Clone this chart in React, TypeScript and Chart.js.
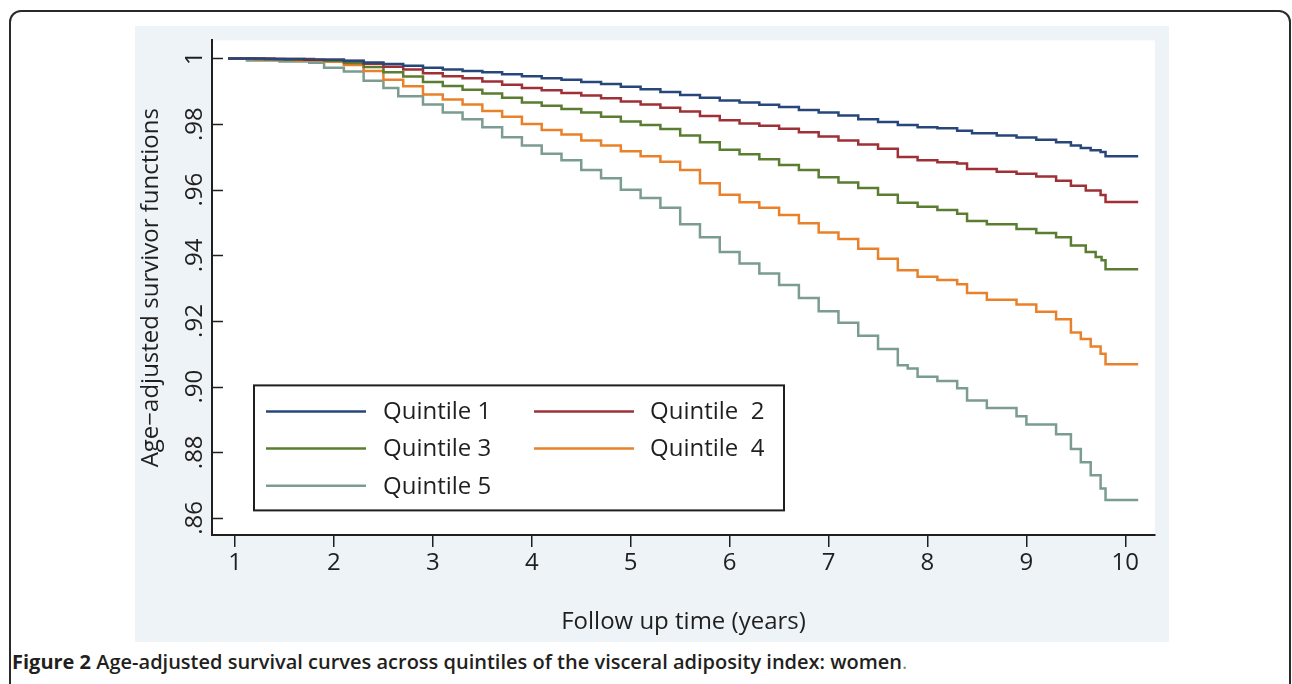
import React, { useEffect, useRef } from 'react';
import { Chart, registerables } from 'chart.js';

Chart.register(...registerables);

const FONT = '"Open Sans", "Noto Sans", sans-serif';
const INK = '#1f1f1f';

const seriesLabels = ['Quintile 1', 'Quintile  2', 'Quintile 3', 'Quintile  4', 'Quintile 5'];
const seriesColors = ['#27477A', '#9E3036', '#5A7D32', '#E9812A', '#7B9C90'];

const q1Time = [0.93, 1.3, 1.7, 2.1, 2.3, 2.5, 2.7, 2.9, 3.1, 3.3, 3.5, 3.7, 3.9, 4.1, 4.3, 4.5, 4.7, 4.9, 5.1, 5.3, 5.5, 5.7, 5.9, 6.1, 6.3, 6.5, 6.7, 6.9, 7.1, 7.3, 7.5, 7.7, 7.9, 8.1, 8.3, 8.45, 8.7, 8.9, 9.1, 9.3, 9.45, 9.55, 9.65, 9.75, 9.8, 10.13];
const q1Surv = [1.0, 0.9998, 0.9996, 0.9993, 0.9988, 0.9983, 0.9978, 0.9972, 0.9966, 0.9962, 0.9958, 0.9952, 0.9946, 0.994, 0.9935, 0.9928, 0.9922, 0.9914, 0.9906, 0.9898, 0.9889, 0.988, 0.9872, 0.9866, 0.9859, 0.9852, 0.9843, 0.9835, 0.9826, 0.9815, 0.9806, 0.9797, 0.979, 0.9787, 0.978, 0.9772, 0.9765, 0.9759, 0.9752, 0.9745, 0.9735, 0.9727, 0.972, 0.9715, 0.9702, 0.9702];

const q2Time = [0.93, 1.4, 1.8, 2.1, 2.3, 2.5, 2.7, 2.9, 3.1, 3.3, 3.5, 3.7, 3.9, 4.1, 4.3, 4.5, 4.7, 4.9, 5.1, 5.3, 5.5, 5.7, 5.9, 6.1, 6.3, 6.5, 6.7, 6.9, 7.1, 7.3, 7.5, 7.7, 7.9, 8.1, 8.3, 8.4, 8.7, 8.9, 9.1, 9.3, 9.45, 9.6, 9.75, 9.8, 10.13];
const q2Surv = [1.0, 0.9998, 0.9996, 0.9992, 0.9984, 0.9975, 0.9966, 0.9955, 0.9946, 0.994, 0.993, 0.992, 0.991, 0.9903, 0.9895, 0.9887, 0.9879, 0.9869, 0.986, 0.985, 0.9838, 0.9825, 0.9812, 0.9802, 0.9795, 0.9786, 0.9775, 0.9762, 0.975, 0.9738, 0.9725, 0.97, 0.969, 0.9684, 0.968, 0.9663, 0.9655, 0.9649, 0.964, 0.9627, 0.9612, 0.9598, 0.9584, 0.9563, 0.9563];

const q3Time = [0.93, 1.2, 1.5, 1.9, 2.1, 2.3, 2.5, 2.7, 2.9, 3.1, 3.3, 3.5, 3.7, 3.9, 4.1, 4.3, 4.5, 4.7, 4.9, 5.1, 5.3, 5.5, 5.7, 5.9, 6.1, 6.3, 6.5, 6.7, 6.9, 7.1, 7.3, 7.5, 7.7, 7.9, 8.1, 8.3, 8.4, 8.6, 8.9, 9.1, 9.3, 9.45, 9.6, 9.7, 9.76, 9.8, 10.13];
const q3Surv = [1.0, 0.9998, 0.9996, 0.9993, 0.9986, 0.9974, 0.9958, 0.9945, 0.9928, 0.9916, 0.9905, 0.9893, 0.988, 0.9866, 0.9856, 0.9846, 0.9835, 0.9822, 0.9808, 0.9797, 0.9785, 0.9765, 0.9745, 0.9722, 0.9708, 0.9693, 0.9675, 0.966, 0.9638, 0.9622, 0.9605, 0.9585, 0.956, 0.9548, 0.9538, 0.9527, 0.9505, 0.9495, 0.948, 0.9468, 0.9455, 0.943, 0.941, 0.9395, 0.9385, 0.9358, 0.9358];

const q4Time = [0.93, 1.2, 1.6, 1.9, 2.1, 2.3, 2.5, 2.7, 2.9, 3.1, 3.3, 3.5, 3.7, 3.9, 4.1, 4.3, 4.5, 4.7, 4.9, 5.1, 5.3, 5.5, 5.7, 5.9, 6.1, 6.3, 6.5, 6.7, 6.9, 7.1, 7.3, 7.5, 7.7, 7.9, 8.1, 8.3, 8.4, 8.6, 8.9, 9.1, 9.3, 9.45, 9.55, 9.65, 9.75, 9.8, 10.13];
const q4Surv = [1.0, 0.9997, 0.9993, 0.999, 0.998, 0.9962, 0.9935, 0.9915, 0.989, 0.9875, 0.986, 0.984, 0.9822, 0.98, 0.9782, 0.9768, 0.975, 0.9735, 0.9717, 0.9702, 0.9685, 0.966, 0.962, 0.9585, 0.9562, 0.9545, 0.9523, 0.9498, 0.947, 0.945, 0.942, 0.939, 0.9355, 0.9335, 0.9325, 0.9312, 0.9285, 0.9265, 0.925, 0.9228, 0.9205, 0.9165, 0.9145, 0.9122, 0.91, 0.9068, 0.9068];

const q5Time = [0.93, 1.12, 1.45, 1.75, 1.9, 2.1, 2.3, 2.5, 2.65, 2.9, 3.1, 3.3, 3.5, 3.7, 3.9, 4.1, 4.3, 4.5, 4.7, 4.9, 5.1, 5.3, 5.5, 5.7, 5.9, 6.1, 6.3, 6.5, 6.7, 6.9, 7.1, 7.3, 7.5, 7.7, 7.8, 7.9, 8.1, 8.3, 8.4, 8.6, 8.9, 9.0, 9.3, 9.45, 9.55, 9.65, 9.75, 9.8, 10.13];
const q5Surv = [1.0, 0.9994, 0.9991, 0.9987, 0.9972, 0.996, 0.9932, 0.991, 0.9885, 0.986, 0.9835, 0.9815, 0.979, 0.976, 0.9735, 0.971, 0.969, 0.966, 0.9635, 0.96, 0.9575, 0.9545, 0.9495, 0.9455, 0.941, 0.9375, 0.9345, 0.931, 0.927, 0.923, 0.9195, 0.9155, 0.9115, 0.9065, 0.9055, 0.903, 0.9017, 0.8995, 0.8958, 0.8935, 0.891, 0.8885, 0.8855, 0.881, 0.877, 0.873, 0.869, 0.8655, 0.8655];

const seriesTimes = [q1Time, q2Time, q3Time, q4Time, q5Time];
const seriesSurv = [q1Surv, q2Surv, q3Surv, q4Surv, q5Surv];

const xTickValues = [1, 2, 3, 4, 5, 6, 7, 8, 9, 10];
const xTickLabels = ['1', '2', '3', '4', '5', '6', '7', '8', '9', '10'];
const yTickValues = [0.86, 0.88, 0.9, 0.92, 0.94, 0.96, 0.98, 1.0];
const yTickLabels = ['.86', '.88', '.90', '.92', '.94', '.96', '.98', '1'];
const xRange = [0.767, 10.3];
const yRange = [0.8548, 1.0055];

const xAxisTitle = 'Follow up time (years)';
const yAxisTitle = 'Age\u2212adjusted survivor functions';
const captionBold = 'Figure 2';
const captionText = ' Age-adjusted survival curves across quintiles of the visceral adiposity index: women';

const plotBackground = {
  id: 'plotBackground',
  beforeDraw(chart: any) {
    const { ctx, chartArea } = chart;
    ctx.save();
    ctx.fillStyle = '#ffffff';
    ctx.fillRect(chartArea.left, chartArea.top, chartArea.right - chartArea.left, chartArea.bottom - chartArea.top);
    ctx.restore();
  },
};

const inwardYTicks = {
  id: 'inwardYTicks',
  afterDraw(chart: any) {
    const { ctx, chartArea } = chart;
    const y = chart.scales.y;
    ctx.save();
    ctx.strokeStyle = INK;
    ctx.lineWidth = 1.5;
    y.ticks.forEach((t: any) => {
      const py = Math.round(y.getPixelForValue(t.value)) + 0.5;
      ctx.beginPath();
      ctx.moveTo(chartArea.left, py);
      ctx.lineTo(chartArea.left + 11, py);
      ctx.stroke();
    });
    ctx.restore();
  },
};

const boxLegend = {
  id: 'boxLegend',
  afterDraw(chart: any) {
    const { ctx, chartArea } = chart;
    const left = chartArea.left + 42;
    const top = chartArea.top + 345;
    const w = 530;
    const h = 125;
    ctx.save();
    ctx.fillStyle = '#ffffff';
    ctx.fillRect(left, top, w, h);
    ctx.strokeStyle = INK;
    ctx.lineWidth = 2;
    ctx.strokeRect(left, top, w, h);
    ctx.font = `24px ${FONT}`;
    ctx.textBaseline = 'middle';
    ctx.textAlign = 'left';
    chart.data.datasets.forEach((ds: any, i: number) => {
      const col = i % 2;
      const row = Math.floor(i / 2);
      const cy = top + 26 + row * 37.2;
      const lx = left + 12 + col * 268;
      ctx.strokeStyle = ds.borderColor;
      ctx.lineWidth = 2.5;
      ctx.beginPath();
      ctx.moveTo(lx, cy);
      ctx.lineTo(lx + 100, cy);
      ctx.stroke();
      ctx.fillStyle = INK;
      ctx.fillText(ds.label, left + 129 + col * 267, cy + 1);
    });
    ctx.restore();
  },
};

function SurvivalChart() {
  const ref = useRef<HTMLCanvasElement | null>(null);
  useEffect(() => {
    if (!ref.current) return;
    const datasets = seriesLabels.map((label, i) => ({
      label,
      data: seriesTimes[i].map((t, j) => ({ x: t, y: seriesSurv[i][j] })),
      borderColor: seriesColors[i],
      backgroundColor: seriesColors[i],
      borderWidth: 2.5,
      pointRadius: 0,
      stepped: true,
      fill: false,
      borderJoinStyle: 'miter',
      borderCapStyle: 'butt',
    }));
    const chart = new Chart(ref.current, {
      type: 'line',
      data: { datasets } as any,
      plugins: [plotBackground, inwardYTicks, boxLegend],
      options: {
        animation: false,
        responsive: false,
        devicePixelRatio: 1,
        layout: { padding: { left: 0, top: 13, right: 14, bottom: 0 } },
        plugins: { legend: { display: false }, tooltip: { enabled: false } },
        scales: {
          x: {
            type: 'linear',
            min: xRange[0],
            max: xRange[1],
            afterBuildTicks: (s: any) => {
              s.ticks = xTickValues.map((v) => ({ value: v }));
            },
            afterFit: (s: any) => {
              s.height = 107;
            },
            ticks: {
              autoSkip: false,
              maxRotation: 0,
              minRotation: 0,
              padding: 2,
              color: INK,
              font: { family: FONT, size: 24 },
              callback: (v: any) => xTickLabels[xTickValues.indexOf(v)] ?? '',
            },
            grid: { drawOnChartArea: false, drawTicks: true, tickLength: 12, color: INK, lineWidth: 1.5 },
            border: { display: true, color: INK, width: 2 },
            title: {
              display: true,
              text: xAxisTitle,
              color: INK,
              font: { family: FONT, size: 24 },
              padding: { top: 0, bottom: 5 },
            },
          },
          y: {
            type: 'linear',
            min: yRange[0],
            max: yRange[1],
            afterBuildTicks: (s: any) => {
              s.ticks = yTickValues.map((v) => ({ value: v }));
            },
            afterFit: (s: any) => {
              s.width = 77;
            },
            ticks: {
              autoSkip: false,
              minRotation: 90,
              maxRotation: 90,
              crossAlign: 'center',
              padding: 0,
              color: INK,
              font: { family: FONT, size: 24 },
              callback: (v: any) => yTickLabels[yTickValues.indexOf(v)] ?? '',
            },
            grid: { drawOnChartArea: false, drawTicks: false },
            border: { display: true, color: INK, width: 2 },
            title: {
              display: true,
              text: yAxisTitle,
              color: INK,
              font: { family: FONT, size: 24 },
              padding: { top: 2, bottom: 0 },
            },
          },
        },
      } as any,
    });
    return () => chart.destroy();
  }, []);
  return <canvas ref={ref} width={1034} height={616} style={{ display: 'block', width: 1034, height: 616 }} />;
}

export default function App() {
  return (
    <div
      style={{
        position: 'absolute',
        left: 0,
        top: 0,
        width: 1292,
        height: 684,
        overflow: 'hidden',
        background: '#ffffff',
        fontFamily: FONT,
      }}
    >
      <div
        style={{
          position: 'absolute',
          left: 9,
          top: 10,
          width: 1282,
          height: 760,
          border: '2px solid #2a2a2a',
          borderRadius: 12,
          boxSizing: 'border-box',
        }}
      />
      <div style={{ position: 'absolute', left: 135, top: 26, width: 1034, height: 616, background: '#EEF3F7' }}>
        <SurvivalChart />
      </div>
      <div
        style={{
          position: 'absolute',
          left: 12,
          top: 652,
          fontSize: 20,
          lineHeight: '20px',
          color: '#231F20',
          whiteSpace: 'pre',
          fontWeight: 600,
        }}
      >
        <span style={{ fontWeight: 700 }}>{captionBold}</span>
        {captionText}
        <span style={{ fontWeight: 400, color: '#888' }}>.</span>
      </div>
    </div>
  );
}
